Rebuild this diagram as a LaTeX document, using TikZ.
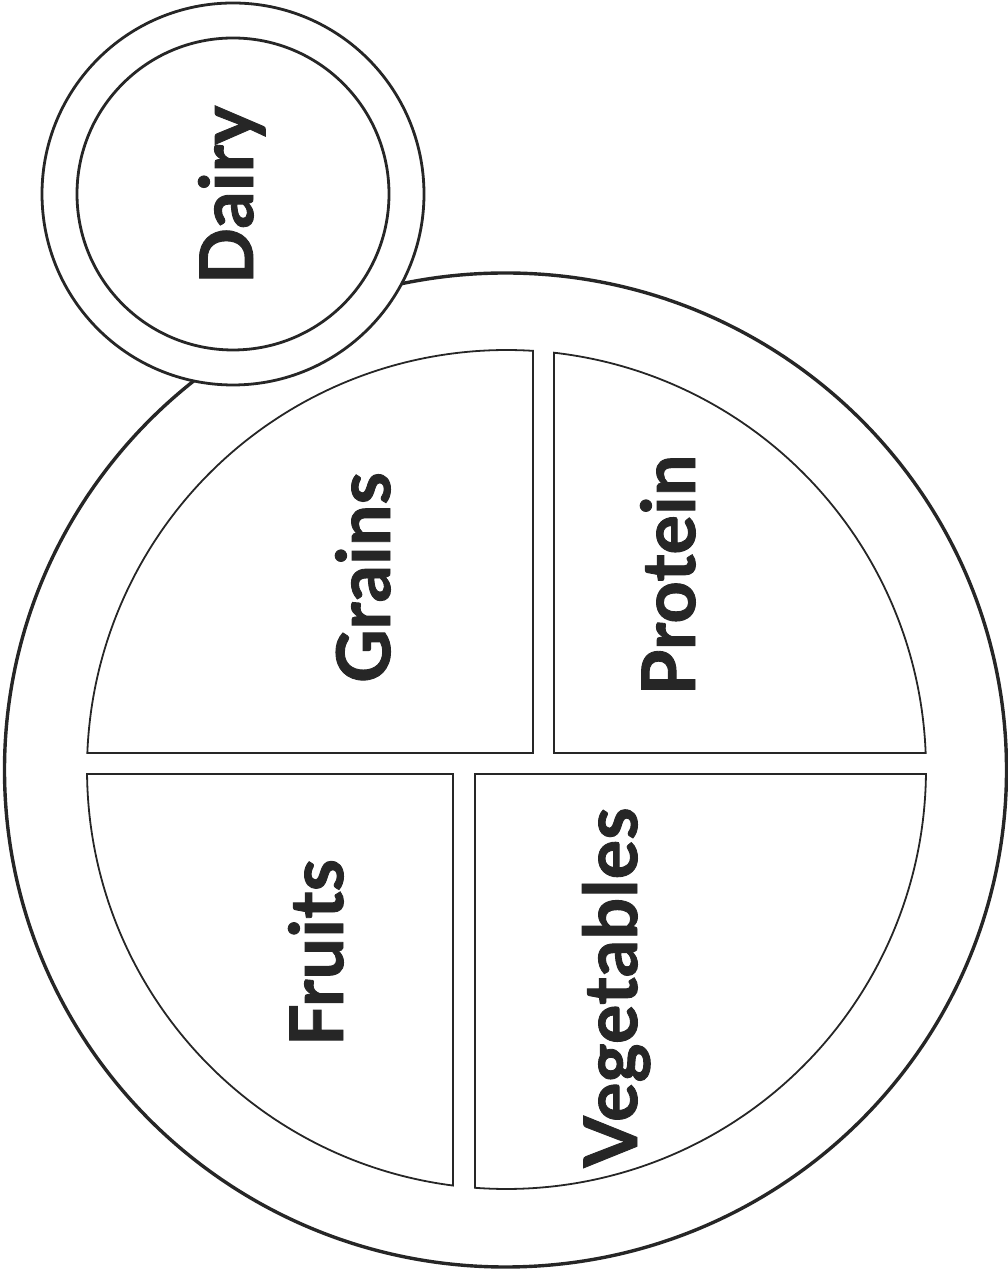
\documentclass[tikz,border=0pt]{standalone}
\usepackage{fontspec}
\setmainfont{Lato}[BoldFeatures={FakeBold=1.2}]
\begin{document}
\begin{tikzpicture}[x=1pt,y=1pt,
  ink/.style={draw=black!85},
  platerim/.style={ink, line width=3.4pt},
  cuprim/.style={ink, line width=2.8pt},
  section/.style={ink, line width=1.8pt, line join=miter},
  label/.style={rotate=90, anchor=base, inner sep=0pt, text=black!85,
     font=\bfseries\fontsize{74}{80}\selectfont}]
\useasboundingbox (0,0) rectangle (1008,1274);
% plate
\node[coordinate] (C) at (506.5,504.5) {};
\draw[platerim] (505.5,504) ellipse [x radius=501, y radius=497];
% sections
\draw[section] (533,521) -- ([shift={(C)}]177.746:419.5)
   arc[start angle=177.746, end angle=86.378, radius=419.5] -- cycle;
\draw[section] (554,521) -- ([shift={(C)}]83.498:419.5)
   arc[start angle=83.498, end angle=2.254, radius=419.5] -- cycle;
\draw[section] (453,500) -- ([shift={(C)}]180.615:419.5)
   arc[start angle=180.615, end angle=262.673, radius=419.5] -- cycle;
\draw[section] (475,500) -- ([shift={(C)}]359.385:419.5)
   arc[start angle=359.385, end angle=265.693, radius=419.5] -- cycle;
% cup
\node[coordinate] (D) at (233,1080) {};
\draw[cuprim, fill=white] (D) circle [radius=191];
\draw[cuprim] (D) circle [radius=156];
% labels
\node[label] (dairy) at (253,1079) {Dairy};
\node[label] (grains) at (390,696.5) {Grains};
\node[label] (protein) at (695,699) {Protein};
\node[label] (fruits) at (343,321.5) {Fruits};
\node[label] (veg) at (637,286.5) {Vegetables};
\end{tikzpicture}
\end{document}
